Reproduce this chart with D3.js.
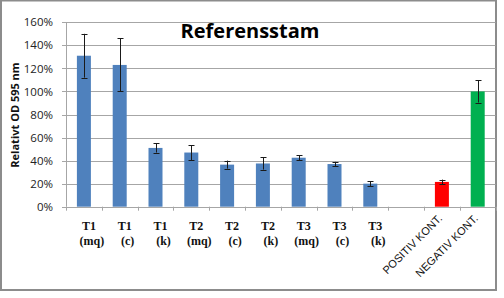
<html>
<head>
    <style>
        body { margin: 0; background: #fff; }
    </style>
    <script src="https://d3js.org/d3.v7.min.js"></script>
</head>
<body>
    <svg width=504 height=298></svg>
</body>
<script>

    // values
    const categories = ["T1 (mq)", "T1 (c)", "T1 (k)", "T2 (mq)", "T2 (c)", "T2 (k)",
        "T3 (mq)", "T3 (c)", "T3 (k)", "", "POSITIV KONT.", "NEGATIV KONT."];
    const values = [131, 123, 51, 47, 36.5, 37.5, 42.5, 37, 20, null, 21.5, 100];
    const errors = [19, 23, 4, 6.5, 3.5, 5.3, 2, 1.9, 2, null, 2, 9.6];
    const colors = ["#4f81bd", "#4f81bd", "#4f81bd", "#4f81bd", "#4f81bd", "#4f81bd",
        "#4f81bd", "#4f81bd", "#4f81bd", "#4f81bd", "#ff0000", "#00b050"];
    const yTicks = [0, 20, 40, 60, 80, 100, 120, 140, 160];

    const svg = d3.select("svg");

    // chart frame
    svg.append("rect")
        .attr("x", 1).attr("y", 0.5)
        .attr("width", 495).attr("height", 289.5)
        .attr("fill", "#fff")
        .attr("stroke", "#8c8c8c")
        .attr("stroke-width", 2);

    let plotLeft = 66, plotRight = 495.6, plotTop = 22.3, plotBottom = 206.7;

    let x = d3.scaleBand()
        .domain(d3.range(categories.length))
        .range([plotLeft, plotRight])
        .paddingInner(0)
        .paddingOuter(0);

    let y = d3.scaleLinear()
        .domain([0, 160])
        .range([plotBottom, plotTop]);

    // gridlines + y ticks
    svg.append("g")
        .selectAll("line")
        .data(yTicks)
        .join("line")
            .attr("x1", plotLeft - 4)
            .attr("x2", plotRight)
            .attr("y1", d => Math.round(y(d)) + 0.5)
            .attr("y2", d => Math.round(y(d)) + 0.5)
            .attr("stroke", "#a6a6a6")
            .attr("stroke-width", 1);

    svg.append("g")
        .selectAll("text")
        .data(yTicks)
        .join("text")
            .attr("x", 53)
            .attr("y", d => y(d))
            .attr("dy", "0.36em")
            .attr("text-anchor", "end")
            .style("font", "11.5px 'Open Sans', sans-serif")
            .attr("fill", "#222")
            .text(d => d + "%");

    // y axis line
    svg.append("line")
        .attr("x1", plotLeft + 0.5).attr("x2", plotLeft + 0.5)
        .attr("y1", plotTop).attr("y2", plotBottom)
        .attr("stroke", "#a6a6a6");

    // x axis ticks
    svg.append("g")
        .selectAll("line")
        .data(d3.range(categories.length + 1))
        .join("line")
            .attr("x1", i => Math.round(plotLeft + i * x.step()) + 0.5)
            .attr("x2", i => Math.round(plotLeft + i * x.step()) + 0.5)
            .attr("y1", plotBottom)
            .attr("y2", plotBottom + 4)
            .attr("stroke", "#a6a6a6");

    // bars
    let barW = 14;
    let cx = i => x(i) + x.bandwidth() / 2;
    let idx = d3.range(categories.length).filter(i => values[i] != null);

    svg.append("g")
        .selectAll("rect")
        .data(idx)
        .join("rect")
            .attr("x", i => cx(i) - barW / 2)
            .attr("y", i => y(values[i]))
            .attr("width", barW)
            .attr("height", i => y(0) - y(values[i]))
            .attr("fill", i => colors[i]);

    // error bars
    let eb = svg.append("g")
        .attr("stroke", "#1a1a1a")
        .attr("stroke-width", 1)
        .selectAll("g")
        .data(idx)
        .join("g");
    eb.append("line")
        .attr("x1", i => Math.round(cx(i)) + 0.5)
        .attr("x2", i => Math.round(cx(i)) + 0.5)
        .attr("y1", i => y(values[i] + errors[i]))
        .attr("y2", i => y(values[i] - errors[i]));
    eb.selectAll(".cap")
        .data(i => [[i, 1], [i, -1]])
        .join("line")
            .attr("x1", d => Math.round(cx(d[0])) - 2.5)
            .attr("x2", d => Math.round(cx(d[0])) + 3.5)
            .attr("y1", d => Math.round(y(values[d[0]] + d[1] * errors[d[0]])) + 0.5)
            .attr("y2", d => Math.round(y(values[d[0]] + d[1] * errors[d[0]])) + 0.5);

    // x labels: two-line serif for the T-groups, rotated sans for the controls
    let tLabels = idx.filter(i => categories[i].startsWith("T"));
    let tl = svg.append("g")
        .selectAll("text")
        .data(tLabels)
        .join("text")
            .attr("text-anchor", "middle")
            .style("font", "bold 12px 'Liberation Serif', serif")
            .attr("fill", "#111");
    tl.append("tspan")
        .attr("x", i => cx(i) + 5)
        .attr("y", 230)
        .text(i => categories[i].split(" ")[0]);
    tl.append("tspan")
        .attr("x", i => cx(i) + 8)
        .attr("y", 245)
        .text(i => categories[i].split(" ")[1]);

    let kLabels = idx.filter(i => categories[i].includes("KONT"));
    svg.append("g")
        .selectAll("text")
        .data(kLabels)
        .join("text")
            .attr("transform", i => `translate(${cx(i) + 1},${219}) rotate(-45)`)
            .attr("text-anchor", "end")
            .style("font", "11px 'Liberation Sans', sans-serif")
            .attr("fill", "#111")
            .text(i => categories[i]);

    // y label
    svg.append("text")
        .attr("transform", `translate(19,${115}) rotate(-90)`)
        .attr("text-anchor", "middle")
        .style("font", "bold 11px 'Open Sans', sans-serif")
        .attr("fill", "#111")
        .text("Relativt OD 595 nm");

    // title
    svg.append("text")
        .attr("x", 250)
        .attr("y", 38)
        .attr("text-anchor", "middle")
        .style("font", "bold 20px 'Open Sans', sans-serif")
        .attr("fill", "#000")
        .text("Referensstam");

</script>
</html>
